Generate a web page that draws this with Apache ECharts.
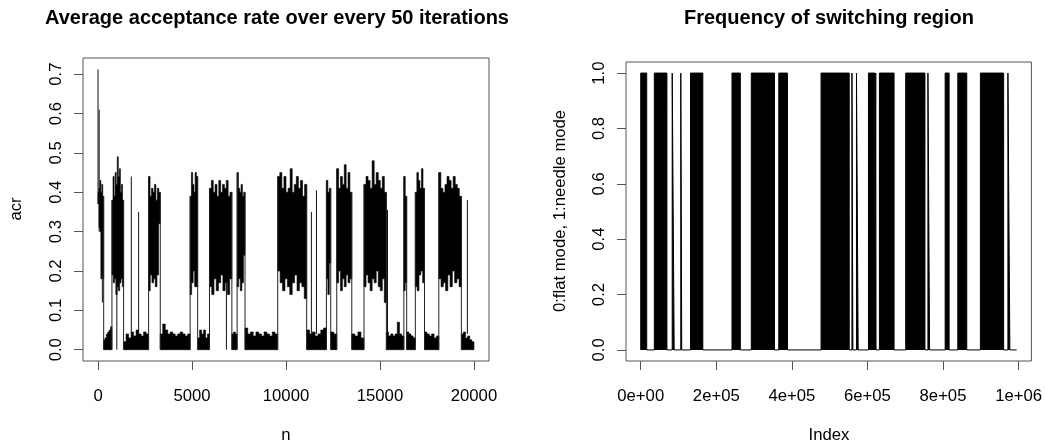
<!DOCTYPE html>
<html>
<head>
<meta charset="utf-8">
<title>acr / switching</title>
<style>
html,body{margin:0;padding:0;background:#fff;}
#main{width:1045px;height:446px;}
</style>
</head>
<body>
<div id="main"></div>
<script src="https://cdn.jsdelivr.net/npm/echarts@6/dist/echarts.min.js"></script>
<script>
// ---- left panel: average acceptance rate (read off the picture as bands) ----
// each band: start n, end n, upper edge readings, lower edge readings
var blockStart = [0, 300, 740, 1360, 2690, 3310, 4900, 5300, 5930, 7120, 7400, 7820, 9560, 11100, 12150, 12380, 12700, 13500, 14150, 15340, 16270, 16420, 16880, 17370, 18130, 19330];
var blockEnd   = [300, 740, 1360, 2690, 3310, 4900, 5300, 5930, 7120, 7400, 7820, 9560, 11100, 12150, 12380, 12700, 13500, 14150, 15340, 16270, 16420, 16880, 17370, 18130, 19330, 20000];
var blockUpper = [
  [0.40, 0.41, 0.43, 0.40, 0.42, 0.39],
  [0.025, 0.03, 0.04, 0.045, 0.05, 0.058],
  [0.38, 0.44, 0.39, 0.45, 0.42, 0.49, 0.44, 0.46, 0.40, 0.42, 0.38],
  [0.02, 0.04, 0.03, 0.045, 0.035, 0.05, 0.04, 0.035, 0.045, 0.04],
  [0.44, 0.39, 0.41, 0.40, 0.42, 0.38, 0.41, 0.40],
  [0.04, 0.065, 0.05, 0.04, 0.045, 0.04, 0.035, 0.04, 0.045, 0.04, 0.035, 0.04],
  [0.39, 0.45, 0.42, 0.40, 0.45, 0.44],
  [0.03, 0.05, 0.04, 0.05, 0.03, 0.04],
  [0.41, 0.43, 0.40, 0.42, 0.39, 0.43, 0.40, 0.42, 0.41, 0.43, 0.39, 0.40],
  [0.04, 0.045, 0.04],
  [0.45, 0.41, 0.40, 0.42, 0.39, 0.40],
  [0.055, 0.04, 0.045, 0.035, 0.045, 0.04, 0.035, 0.045, 0.04, 0.035, 0.045, 0.04],
  [0.44, 0.45, 0.41, 0.44, 0.40, 0.41, 0.46, 0.40, 0.42, 0.44, 0.41, 0.43, 0.39, 0.42],
  [0.05, 0.04, 0.045, 0.035, 0.04, 0.05, 0.055],
  [0.43, 0.40, 0.41],
  [0.045, 0.04],
  [0.46, 0.41, 0.44, 0.42, 0.47, 0.41, 0.45, 0.40],
  [0.04, 0.035, 0.045, 0.03],
  [0.42, 0.44, 0.43, 0.41, 0.48, 0.42, 0.45, 0.43, 0.41, 0.44, 0.40],
  [0.045, 0.035, 0.04, 0.035, 0.04, 0.07, 0.04, 0.035],
  [0.44, 0.39],
  [0.045, 0.04, 0.035, 0.03],
  [0.40, 0.45, 0.43, 0.41, 0.46, 0.41],
  [0.045, 0.04, 0.035, 0.04, 0.03, 0.035],
  [0.45, 0.41, 0.40, 0.42, 0.44, 0.43, 0.41, 0.44, 0.42, 0.41, 0.39],
  [0.04, 0.045, 0.03, 0.035, 0.025, 0.02]
];
var blockLower = [
  [0.37, 0.31, 0.30, 0.18, 0.19, 0.18],
  [0],
  [0.19, 0.17, 0.18, 0.14, 0.16, 0.15, 0.17, 0.18, 0.16],
  [0],
  [0.15, 0.19, 0.17, 0.18, 0.16, 0.19, 0.32],
  [0],
  [0.14, 0.17, 0.20, 0.16, 0.16],
  [0],
  [0.16, 0.14, 0.18, 0.15, 0.17, 0.19, 0.15, 0.17, 0.14, 0.18],
  [0],
  [0.16, 0.18, 0.15, 0.17, 0.24],
  [0],
  [0.20, 0.17, 0.15, 0.18, 0.16, 0.14, 0.17, 0.19, 0.15, 0.17, 0.16, 0.13],
  [0],
  [0.18, 0.14, 0.22],
  [0],
  [0.17, 0.20, 0.15, 0.18, 0.16, 0.19, 0.17, 0.18],
  [0],
  [0.16, 0.19, 0.17, 0.15, 0.18, 0.17, 0.20, 0.16, 0.15, 0.18, 0.12],
  [0],
  [0.15, 0.17],
  [0],
  [0.16, 0.15, 0.19, 0.20, 0.17],
  [0],
  [0.18, 0.16, 0.17, 0.15, 0.19, 0.16, 0.20, 0.17, 0.18, 0.16],
  [0]
];
// single excursions: n, from, to
var spikeN    = [0, 60, 230, 1000, 1770, 2160, 6830, 11350, 11620, 15400, 19650];
var spikeLow  = [0.37, 0.30, 0.12, 0, 0.04, 0.04, 0, 0.04, 0.04, 0.04, 0.04];
var spikeHigh = [0.712, 0.61, 0.30, 0.17, 0.44, 0.35, 0.17, 0.35, 0.405, 0.355, 0.38];

var acrXTicks = [0, 5000, 10000, 15000, 20000];
var acrYTicks = [0, 0.1, 0.2, 0.3, 0.4, 0.5, 0.6, 0.7];

// ---- right panel: switching indicator, index ranges where it flips ----
var switchStart = [0, 35900, 83300, 106000, 131800, 241500, 292600, 365400, 477200, 559000, 571000, 602700, 622000, 631700, 701300, 760100, 805700, 839200, 899000, 971800];
var switchEnd   = [15800, 69300, 88500, 108500, 164300, 263600, 354000, 388300, 551800, 561500, 575500, 619600, 622800, 670500, 752200, 764500, 816200, 862900, 960500, 977000];
var switchLast = 995000;

var swXTicks = [0, 200000, 400000, 600000, 800000, 1000000];
var swXLabels = ['0e+00', '2e+05', '4e+05', '6e+05', '8e+05', '1e+06'];
var swYTicks = [0, 0.2, 0.4, 0.6, 0.8, 1.0];

var FONT = 'Liberation Sans, Arial, sans-serif';
var AX = '#555';

var switchPts = [];
for (var i = 0; i < switchStart.length; i++) {
  switchPts.push([switchStart[i], 0], [switchStart[i], 1], [switchEnd[i], 1], [switchEnd[i], 0]);
}
switchPts.push([switchLast, 0]);

function renderBlock(params, api) {
  var i = params.dataIndex;
  var s = blockStart[i], e = blockEnd[i];
  var up = blockUpper[i], lo = blockLower[i];
  var pts = [], k, w;
  w = (e - s) / up.length;
  for (k = 0; k < up.length; k++) {
    pts.push(api.coord([s + k * w, up[k]]));
    pts.push(api.coord([s + (k + 1) * w, up[k]]));
  }
  w = (e - s) / lo.length;
  for (k = lo.length - 1; k >= 0; k--) {
    pts.push(api.coord([s + (k + 1) * w, lo[k]]));
    pts.push(api.coord([s + k * w, lo[k]]));
  }
  var kids = [{type: 'polygon', shape: {points: pts}, style: {fill: '#000', stroke: '#000', lineWidth: 0.6}}];
  if (i > 0) {
    var pu = blockUpper[i - 1], pl = blockLower[i - 1];
    var a = api.coord([s, Math.min(lo[0], pl[pl.length - 1])]);
    var b = api.coord([s, Math.max(up[0], pu[pu.length - 1])]);
    kids.push({type: 'line', shape: {x1: a[0], y1: a[1], x2: b[0], y2: b[1]}, style: {stroke: '#222', lineWidth: 1}});
  }
  return {type: 'group', children: kids};
}

function renderSpike(params, api) {
  var i = params.dataIndex;
  var a = api.coord([spikeN[i], spikeLow[i]]);
  var b = api.coord([spikeN[i], spikeHigh[i]]);
  return {type: 'line', shape: {x1: a[0], y1: a[1], x2: b[0], y2: b[1]}, style: {stroke: '#111', lineWidth: 1}};
}

function xAx(idx, min, max, ticks, fmt) {
  return {
    type: 'value', gridIndex: idx, min: min, max: max,
    splitLine: {show: false}, axisLine: {show: false, onZero: false},
    axisTick: {show: true, length: 9, customValues: ticks, lineStyle: {color: AX}},
    axisLabel: {customValues: ticks, formatter: fmt, margin: 27, fontSize: 16.7, color: '#000', fontFamily: FONT}
  };
}
function yAx(idx, min, max, ticks) {
  return {
    type: 'value', gridIndex: idx, min: min, max: max,
    splitLine: {show: false}, axisLine: {show: false, onZero: false},
    axisTick: {show: true, length: 9, customValues: ticks, lineStyle: {color: AX}},
    axisLabel: {customValues: ticks, rotate: 90, margin: 18, fontSize: 16.7, color: '#000', fontFamily: FONT,
      formatter: function (v) { return v.toFixed(1); }}
  };
}
function txt(t, x, y, size, bold, rot) {
  return {
    type: 'text', x: x, y: y, rotation: rot || 0,
    style: {text: t, fill: '#000', fontSize: size, fontWeight: bold ? 'bold' : 'normal', fontFamily: FONT,
      textAlign: 'center', textVerticalAlign: 'middle', align: 'center', verticalAlign: 'middle'}
  };
}

var myChart = echarts.init(document.getElementById('main'));
myChart.setOption({
  animation: false,
  backgroundColor: '#fff',
  grid: [
    {left: 83, top: 58, width: 406, height: 303, show: true, borderColor: AX, borderWidth: 1},
    {left: 626, top: 62, width: 406, height: 299, show: true, borderColor: AX, borderWidth: 1}
  ],
  xAxis: [
    xAx(0, -800, 20800, acrXTicks, function (v) { return String(v); }),
    xAx(1, -39000, 1034000, swXTicks, function (v) { return swXLabels[swXTicks.indexOf(v)]; })
  ],
  yAxis: [
    yAx(0, -0.0287, 0.7411, acrYTicks),
    yAx(1, -0.04, 1.04, swYTicks)
  ],
  graphic: [
    txt('Average acceptance rate over every 50 iterations', 277, 18, 20, true),
    txt('Frequency of switching region', 829, 18, 20, true),
    txt('n', 286, 435, 16.7),
    txt('acr', 16, 209, 16.7, false, Math.PI / 2),
    txt('Index', 829, 435, 16.7),
    txt('0:flat mode, 1:needle mode', 560, 211, 16.7, false, Math.PI / 2)
  ],
  series: [
    {type: 'custom', xAxisIndex: 0, yAxisIndex: 0, renderItem: renderBlock,
     data: blockStart.map(function (s, i) { return [s, blockEnd[i]]; }), encode: {x: [0, 1]}},
    {type: 'custom', xAxisIndex: 0, yAxisIndex: 0, renderItem: renderSpike,
     data: spikeN.map(function (n, i) { return [n, spikeLow[i], spikeHigh[i]]; }), encode: {x: 0, y: [1, 2]}},
    {type: 'line', xAxisIndex: 1, yAxisIndex: 1, data: switchPts, symbol: 'none',
     lineStyle: {color: '#000', width: 1}, areaStyle: {color: '#000', opacity: 1}}
  ]
});
</script>
</body>
</html>
